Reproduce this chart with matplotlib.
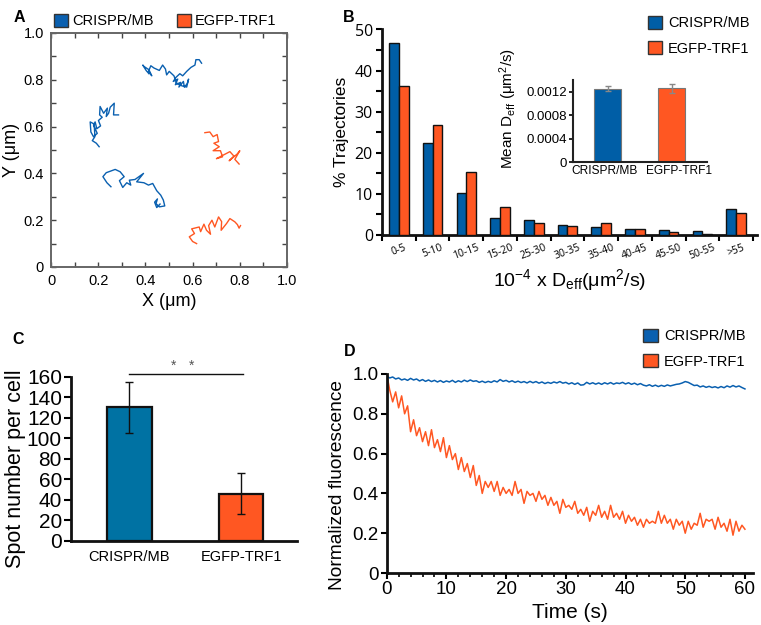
import matplotlib
matplotlib.use("Agg")
import matplotlib.pyplot as plt
import matplotlib.transforms as mtransforms
from matplotlib.patches import Patch
import numpy as np

plt.rcParams['font.family'] = ['Liberation Sans', 'DejaVu Sans']
plt.rcParams['mathtext.fontset'] = 'custom'
plt.rcParams['mathtext.rm'] = 'Liberation Sans'
plt.rcParams['mathtext.it'] = 'Liberation Sans:italic'
plt.rcParams['mathtext.bf'] = 'Liberation Sans:bold'

BLUE = '#0a60b0'
ORANGE = '#ff5722'
BLUE_B = '#005ea6'
BLUE_C = '#0072a3'

# ---------------- Panel A: trajectories (x, y in µm) ----------------
traj1_x = [0.638, 0.628, 0.614, 0.610, 0.593, 0.575, 0.558, 0.546, 0.530, 0.518, 0.537, 0.527,
           0.549, 0.542, 0.561, 0.565, 0.577, 0.583, 0.575, 0.555, 0.532, 0.521, 0.501, 0.490,
           0.485, 0.473, 0.459, 0.437, 0.423, 0.413, 0.427, 0.415, 0.394, 0.389, 0.403, 0.415]
traj1_y = [0.871, 0.886, 0.886, 0.863, 0.853, 0.836, 0.817, 0.826, 0.811, 0.793, 0.803, 0.779,
           0.789, 0.769, 0.793, 0.769, 0.783, 0.803, 0.769, 0.774, 0.786, 0.817, 0.836, 0.821,
           0.846, 0.863, 0.840, 0.850, 0.860, 0.836, 0.817, 0.843, 0.857, 0.863, 0.840, 0.826]
traj2_x = [0.286, 0.265, 0.268, 0.251, 0.244, 0.234, 0.239, 0.223, 0.208, 0.206, 0.217, 0.201,
           0.210, 0.194, 0.187, 0.180, 0.196, 0.180, 0.169, 0.166, 0.183, 0.186, 0.175, 0.192, 0.204]
traj2_y = [0.650, 0.650, 0.700, 0.683, 0.657, 0.643, 0.679, 0.657, 0.686, 0.650, 0.640, 0.626,
           0.603, 0.591, 0.620, 0.607, 0.571, 0.557, 0.577, 0.620, 0.611, 0.557, 0.540, 0.529, 0.514]
traj3_x = [0.254, 0.237, 0.220, 0.234, 0.272, 0.293, 0.310, 0.290, 0.304, 0.321, 0.338, 0.332,
           0.356, 0.392, 0.363, 0.394, 0.413, 0.431, 0.448, 0.465, 0.476, 0.482, 0.459, 0.445,
           0.451, 0.439, 0.448, 0.462]
traj3_y = [0.343, 0.360, 0.386, 0.403, 0.417, 0.407, 0.386, 0.369, 0.340, 0.360, 0.350, 0.371,
           0.374, 0.400, 0.364, 0.360, 0.350, 0.357, 0.326, 0.307, 0.286, 0.261, 0.257, 0.271,
           0.291, 0.277, 0.254, 0.269]
traj4_x = [0.652, 0.673, 0.687, 0.704, 0.710, 0.690, 0.713, 0.687, 0.718, 0.727, 0.701, 0.758,
           0.775, 0.755, 0.789, 0.800, 0.779, 0.797]
traj4_y = [0.574, 0.577, 0.557, 0.566, 0.536, 0.529, 0.514, 0.497, 0.497, 0.471, 0.463, 0.493,
           0.474, 0.454, 0.483, 0.497, 0.460, 0.440]
traj5_x = [0.617, 0.600, 0.586, 0.608, 0.596, 0.628, 0.634, 0.648, 0.659, 0.676, 0.668, 0.682,
           0.694, 0.710, 0.723, 0.721, 0.744, 0.758, 0.779, 0.790, 0.797, 0.803]
traj5_y = [0.100, 0.109, 0.129, 0.143, 0.163, 0.171, 0.151, 0.183, 0.157, 0.140, 0.177, 0.200,
           0.171, 0.214, 0.194, 0.157, 0.186, 0.207, 0.193, 0.181, 0.166, 0.177]

# ---------------- Panel B: histogram of D_eff ----------------
bins_B = ['0-5', '5-10', '10-15', '15-20', '25-30', '30-35', '35-40', '40-45', '45-50', '50-55', '>55']
crispr_pct = [46.8, 22.4, 10.2, 4.1, 3.6, 2.4, 2.0, 1.5, 1.1, 0.9, 6.3]
egfp_pct = [36.3, 26.7, 15.3, 6.9, 2.9, 2.2, 2.9, 1.5, 0.8, 0.3, 5.4]

inset_groups = ['CRISPR/MB', 'EGFP-TRF1']
inset_mean = [0.00125, 0.00126]
inset_err = [0.00004, 0.00008]

# ---------------- Panel C: spot number per cell ----------------
groups_C = ['CRISPR/MB', 'EGFP-TRF1']
spots_mean = [130, 46]
spots_err = [24.5, 20]

# ---------------- Panel D: photobleaching ----------------
time_s = [i * 0.5 for i in range(121)]
fluor_crispr = [0.99, 0.98, 0.985, 0.975, 0.98, 0.97, 0.975, 0.968, 0.978, 0.97,
                0.975, 0.965, 0.972, 0.963, 0.97, 0.962, 0.968, 0.96, 0.967, 0.958,
                0.965, 0.96, 0.968, 0.958, 0.966, 0.96, 0.969, 0.962, 0.97, 0.963,
                0.966, 0.958, 0.964, 0.957, 0.963, 0.958, 0.966, 0.96, 0.972, 0.963,
                0.968, 0.96, 0.966, 0.958, 0.964, 0.957, 0.962, 0.955, 0.963, 0.956,
                0.962, 0.954, 0.96, 0.952, 0.958, 0.953, 0.96, 0.955, 0.962, 0.954,
                0.958, 0.95, 0.956, 0.948, 0.955, 0.944, 0.946, 0.958, 0.95, 0.956,
                0.949, 0.955, 0.948, 0.956, 0.95, 0.957, 0.949, 0.955, 0.952, 0.958,
                0.95, 0.956, 0.948, 0.954, 0.946, 0.952, 0.944, 0.94, 0.946, 0.938,
                0.944, 0.937, 0.943, 0.938, 0.945, 0.94, 0.944, 0.948, 0.95, 0.955,
                0.962, 0.958, 0.95, 0.942, 0.944, 0.935, 0.94, 0.933, 0.938, 0.932,
                0.936, 0.93, 0.937, 0.931, 0.94, 0.934, 0.942, 0.935, 0.94, 0.932,
                0.925]
fluor_egfp = [1.00, 0.92, 0.86, 0.91, 0.83, 0.89, 0.80, 0.84, 0.71, 0.77,
              0.69, 0.73, 0.66, 0.71, 0.64, 0.72, 0.63, 0.67, 0.61, 0.68,
              0.58, 0.64, 0.57, 0.60, 0.52, 0.58, 0.51, 0.55, 0.48, 0.54,
              0.44, 0.49, 0.40, 0.46, 0.43, 0.46, 0.41, 0.46, 0.39, 0.43,
              0.40, 0.42, 0.39, 0.46, 0.40, 0.42, 0.35, 0.41, 0.39, 0.40,
              0.36, 0.41, 0.37, 0.39, 0.34, 0.38, 0.34, 0.36, 0.30, 0.37,
              0.33, 0.34, 0.32, 0.36, 0.30, 0.32, 0.29, 0.33, 0.26, 0.31,
              0.29, 0.34, 0.28, 0.31, 0.27, 0.34, 0.28, 0.30, 0.27, 0.31,
              0.25, 0.29, 0.26, 0.28, 0.24, 0.27, 0.23, 0.27, 0.25, 0.26,
              0.25, 0.31, 0.25, 0.29, 0.25, 0.27, 0.22, 0.27, 0.24, 0.26,
              0.20, 0.26, 0.22, 0.25, 0.24, 0.30, 0.23, 0.27, 0.26, 0.27,
              0.22, 0.28, 0.23, 0.25, 0.21, 0.27, 0.19, 0.26, 0.21, 0.24,
              0.22]

fig = plt.figure(figsize=(7.61, 6.25), dpi=100)
W, H = 761.0, 625.0

def rect(x0, y0, x1, y1):
    return [x0 / W, 1 - y1 / H, (x1 - x0) / W, (y1 - y0) / H]

# ===== Panel A =====
axA = fig.add_axes(rect(51, 33, 287, 267))
for tx, ty in [(traj1_x, traj1_y), (traj2_x, traj2_y), (traj3_x, traj3_y)]:
    axA.plot(tx, ty, color=BLUE, lw=1.0)
for tx, ty in [(traj4_x, traj4_y), (traj5_x, traj5_y)]:
    axA.plot(tx, ty, color=ORANGE, lw=1.0)
axA.set_xlim(0, 1)
axA.set_ylim(0, 1)
ticksA = [0, 0.2, 0.4, 0.6, 0.8, 1.0]
labsA = ['0', '0.2', '0.4', '0.6', '0.8', '1.0']
axA.set_xticks(ticksA)
axA.set_xticklabels(labsA)
axA.set_yticks(ticksA)
axA.set_yticklabels(labsA)
axA.set_xticks([0.1, 0.3, 0.5, 0.7, 0.9], minor=True)
axA.set_yticks([0.1, 0.3, 0.5, 0.7, 0.9], minor=True)
axA.tick_params(which='both', direction='in', top=True, right=True, length=3.5,
                width=1, color='#444', labelsize=10.5, pad=5)
for sp in axA.spines.values():
    sp.set_color('#666')
    sp.set_linewidth(1.4)
axA.set_xlabel('X (μm)', fontsize=13, labelpad=4)
axA.set_ylabel('Y (μm)', fontsize=13)
axA.yaxis.set_label_coords(-0.132, 0.5)
axA.legend(handles=[Patch(facecolor=BLUE, edgecolor='#333', label='CRISPR/MB'),
                    Patch(facecolor=ORANGE, edgecolor='#333', label='EGFP-TRF1')],
           ncol=2, loc='lower left', bbox_to_anchor=(-0.02, 0.99), frameon=False,
           fontsize=10.5, handlelength=1.0, handleheight=1.0, handletextpad=0.25,
           columnspacing=1.6, borderaxespad=0.1)

# ===== Panel B =====
axB = fig.add_axes(rect(382, 29.5, 757, 235))
xB = np.arange(len(bins_B))
bw = 0.29
axB.bar(xB - bw / 2, crispr_pct, bw, color=BLUE_B, edgecolor='#111', lw=1.0, zorder=3)
axB.bar(xB + bw / 2, egfp_pct, bw, color=ORANGE, edgecolor='#111', lw=1.0, zorder=3)
axB.set_xlim(-0.5, 10.62)
axB.set_ylim(0, 50)
axB.set_yticks([0, 10, 20, 30, 40, 50])
axB.set_yticks([5, 15, 25, 35, 45], minor=True)
axB.set_xticks(xB)
axB.set_xticklabels(bins_B, rotation=20, fontsize=7.5, family=['Open Sans', 'DejaVu Sans'])
axB.set_xticks(np.arange(-0.5, 10.6, 1.0), minor=True)
axB.tick_params(axis='x', which='major', length=0, pad=5)
axB.tick_params(axis='x', which='minor', length=4, width=1.5, direction='out')
axB.tick_params(axis='y', which='both', length=4.5, width=1.5, direction='out', pad=2)
for lab in axB.get_yticklabels():
    lab.set_fontfamily(['Open Sans', 'DejaVu Sans'])
    lab.set_fontsize(11.5)
for s in ['top', 'right']:
    axB.spines[s].set_visible(False)
for s in ['left', 'bottom']:
    axB.spines[s].set_linewidth(2)
    axB.spines[s].set_color('#111')
axB.set_ylabel('% Trajectories', fontsize=12.5, labelpad=4)
axB.set_xlabel('10$^{-4}$ x D$_{\\rm eff}$(μm$^{2}$/s)', fontsize=14, labelpad=4)
axB.legend(handles=[Patch(facecolor=BLUE_B, edgecolor='#333', label='CRISPR/MB'),
                    Patch(facecolor=ORANGE, edgecolor='#333', label='EGFP-TRF1')],
           loc='upper right', bbox_to_anchor=(1.015, 1.13), frameon=False, fontsize=10.5,
           handlelength=1.0, handleheight=1.0, handletextpad=0.4, labelspacing=0.75)

# inset
axI = fig.add_axes(rect(573, 80, 707, 162.3))
xI = np.arange(len(inset_groups))
axI.bar(xI, inset_mean, 0.42, color=[BLUE_B, ORANGE], edgecolor='#777', lw=0.8,
        yerr=inset_err, error_kw=dict(ecolor='#888', elinewidth=1.0, capsize=2.5, capthick=1.0))
axI.set_xlim(-0.54, 1.55)
axI.set_ylim(0, 0.0014)
axI.set_yticks([0, 0.0004, 0.0008, 0.0012])
axI.set_yticklabels(['0', '0.0004', '0.0008', '0.0012'])
axI.set_xticks(xI)
axI.set_xticklabels(inset_groups)
axI.tick_params(axis='y', length=3, width=1.2, pad=1.5, labelsize=9.5)
axI.tick_params(axis='x', length=0, pad=2, labelsize=8.6)
shifts = [-3, 7]
for lab, dx in zip(axI.get_xticklabels(), shifts):
    lab.set_transform(lab.get_transform() +
                      mtransforms.ScaledTranslation(dx / 100.0, 0, fig.dpi_scale_trans))
for s in ['top', 'right']:
    axI.spines[s].set_visible(False)
for s in ['left', 'bottom']:
    axI.spines[s].set_linewidth(1.5)
    axI.spines[s].set_color('#222')
axI.set_ylabel('Mean D$_{\\rm eff}$ (μm$^{2}$/s)', fontsize=11)
axI.yaxis.set_label_coords(-0.40, 0.66)

# ===== Panel C =====
axC = fig.add_axes(rect(71, 376.7, 297, 540.7))
xC = np.arange(len(groups_C))
axC.bar(xC, spots_mean, 0.40, color=[BLUE_C, ORANGE], edgecolor='#111', lw=1.6,
        yerr=spots_err, error_kw=dict(ecolor='#111', elinewidth=1.0, capsize=3, capthick=1.0))
axC.set_xlim(-0.52, 1.5)
axC.set_ylim(0, 160)
axC.set_yticks(np.arange(0, 161, 20))
axC.set_xticks(xC)
axC.set_xticklabels(groups_C)
axC.tick_params(axis='y', length=5, width=1.5, pad=1.5, labelsize=15)
axC.tick_params(axis='x', length=0, pad=7, labelsize=10.5)
for s in ['top', 'right']:
    axC.spines[s].set_visible(False)
for s in ['left', 'bottom']:
    axC.spines[s].set_linewidth(2)
    axC.spines[s].set_color('#111')
axC.set_ylabel('Spot number per cell', fontsize=15.5)
axC.yaxis.set_label_coords(-0.20, 0.437)
axC.plot([xC[0], xC[1] + 0.02], [162.5, 162.5], color='#111', lw=1.0, clip_on=False)
axC.text(0.40, 164, '*', ha='center', va='bottom', fontsize=10, color='#555')
axC.text(0.56, 164, '*', ha='center', va='bottom', fontsize=10, color='#555')

# ===== Panel D =====
axD = fig.add_axes(rect(386.7, 374, 752.7, 573))
axD.plot(time_s, fluor_crispr, color=BLUE, lw=1.1, label='CRISPR/MB')
axD.plot(time_s, fluor_egfp, color=ORANGE, lw=1.1, label='EGFP-TRF1')
axD.set_xlim(0, 61.3)
axD.set_ylim(0, 1.0)
axD.set_xticks(np.arange(0, 61, 10))
axD.set_xticks(np.arange(0, 61, 2), minor=True)
axD.set_yticks([0, 0.2, 0.4, 0.6, 0.8, 1.0])
axD.set_yticklabels(['0', '0.2', '0.4', '0.6', '0.8', '1.0'])
axD.tick_params(which='major', length=4, width=1.5, labelsize=13.5, pad=2)
axD.tick_params(which='minor', length=3, width=1.2)
for s in ['top', 'right']:
    axD.spines[s].set_visible(False)
for s in ['left', 'bottom']:
    axD.spines[s].set_linewidth(2)
    axD.spines[s].set_color('#111')
axD.set_xlabel('Time (s)', fontsize=15, labelpad=3)
axD.set_ylabel('Normalized fluorescence', fontsize=13.8)
axD.yaxis.set_label_coords(-0.111, 0.44)
axD.legend(handles=[Patch(facecolor=BLUE, edgecolor='#333', label='CRISPR/MB'),
                    Patch(facecolor=ORANGE, edgecolor='#333', label='EGFP-TRF1')],
           loc='lower right', bbox_to_anchor=(1.0, 0.99), frameon=False, fontsize=10.5,
           handlelength=1.0, handleheight=1.0, handletextpad=0.4, labelspacing=0.75,
           borderaxespad=0.1)

# panel letters
for lx, ly, t in [(14, 17, 'A'), (343, 17, 'B'), (12, 340, 'C'), (344, 352, 'D')]:
    fig.text(lx / W, 1 - ly / H, t, fontsize=11.5, fontweight='bold', ha='left', va='center')

fig.savefig('out.png', dpi=100)
